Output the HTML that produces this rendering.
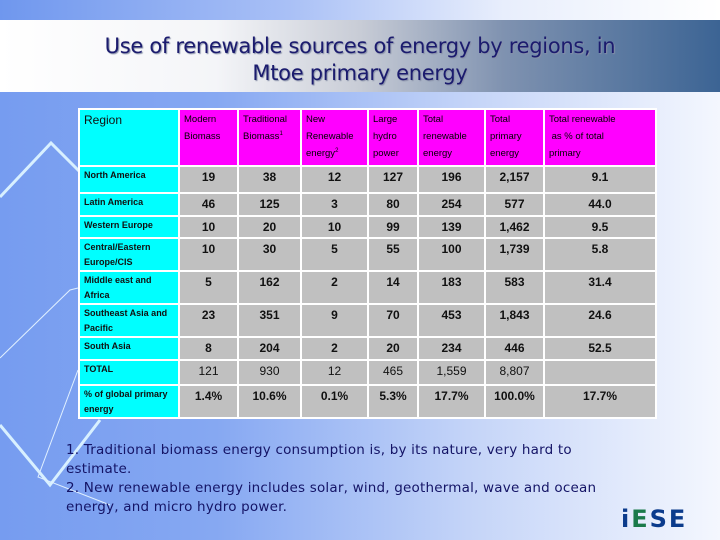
<!DOCTYPE html>
<html><head><meta charset="utf-8"><style>
*{margin:0;padding:0;box-sizing:border-box}
body{width:720px;height:540px;overflow:hidden;position:relative;font-family:"Liberation Sans",sans-serif;
background:linear-gradient(90deg,#769cf0 0%,#86a8f2 30%,#c4d4f8 65%,#f4f7fe 100%)}
#topband{position:absolute;left:0;top:0;width:720px;height:20px;background:linear-gradient(90deg,#6f97ee,#a9c0f6 40%,#e8eefc 70%,#fff)}
#titleband{position:absolute;left:0;top:20px;width:720px;height:72px;background:linear-gradient(90deg,#fff 0%,#f4f5f8 30%,#c8ccd6 50%,#7f92b0 70%,#3c6494 100%)}
h1{position:absolute;left:0;top:33px;width:720px;text-align:center;font-family:"DejaVu Sans",sans-serif;font-weight:normal;font-size:21px;line-height:27px;color:#1b1b6e;text-shadow:1px 1px 1px #8890a8;letter-spacing:-0.3px}
table{position:absolute;left:78px;top:108px;border-collapse:collapse;table-layout:fixed;width:577px;font-size:10px;color:#111}
td{border:2px solid #fff;padding:0 4px;vertical-align:top;overflow:hidden}
td.r{background:#00ffff}
td.h{background:#ff00ff;line-height:17px;padding-top:1px;font-size:9.5px;color:#000}
sup{line-height:0;font-size:6px}
td.v{background:#c0c0c0;text-align:center;font-weight:bold;font-size:12px;line-height:14px;padding-top:3px}
td.r.l{font-size:9px;line-height:15px;font-weight:bold;padding-top:1px}
#notes{position:absolute;left:66px;top:441px;width:595px;font-family:"DejaVu Sans",sans-serif;font-size:13.5px;line-height:19px;color:#141466;letter-spacing:0.2px}
#logo{position:absolute;left:621px;top:505px;font-family:"DejaVu Sans",sans-serif;font-weight:bold;font-size:24px;letter-spacing:2px;color:#0b3b8c}
svg{position:absolute;left:0;top:0}
</style></head><body>
<div id="topband"></div>
<div id="titleband"></div>
<svg width="720" height="540">
<polyline points="0,197 51,143 80,172" stroke="#d8f0ff" stroke-width="3" fill="none"/>
<polyline points="0,425 50,485 100,420" stroke="#d8f0ff" stroke-width="3" fill="none"/>
<polyline points="0,358 70,290 78,288" stroke="#e0f0ff" stroke-width="1" fill="none"/>
<polyline points="78,370 38,477 110,505" stroke="#e0f0ff" stroke-width="1" fill="none"/>
</svg>
<h1>Use of renewable sources of energy by regions, in<br>Mtoe primary energy</h1>
<table>
<colgroup><col style="width:100px"><col style="width:59px"><col style="width:63px"><col style="width:67px"><col style="width:50px"><col style="width:67px"><col style="width:59px"><col style="width:112px"></colgroup>
<tr style="height:57px">
<td class="r" style="font-size:12px;padding-top:3px">Region</td>
<td class="h">Modern Biomass</td>
<td class="h">Traditional Biomass<sup>1</sup></td>
<td class="h">New Renewable energy<sup>2</sup></td>
<td class="h">Large hydro power</td>
<td class="h">Total renewable energy</td>
<td class="h">Total primary energy</td>
<td class="h">Total renewable<br>&nbsp;as % of total<br>primary</td>
</tr>
<tr style="height:27px"><td class="r l">North America</td><td class="v">19</td><td class="v">38</td><td class="v">12</td><td class="v">127</td><td class="v">196</td><td class="v">2,157</td><td class="v">9.1</td></tr>
<tr style="height:23px"><td class="r l">Latin America</td><td class="v">46</td><td class="v">125</td><td class="v">3</td><td class="v">80</td><td class="v">254</td><td class="v">577</td><td class="v">44.0</td></tr>
<tr style="height:22px"><td class="r l">Western Europe</td><td class="v">10</td><td class="v">20</td><td class="v">10</td><td class="v">99</td><td class="v">139</td><td class="v">1,462</td><td class="v">9.5</td></tr>
<tr style="height:33px"><td class="r l">Central/Eastern Europe/CIS</td><td class="v">10</td><td class="v">30</td><td class="v">5</td><td class="v">55</td><td class="v">100</td><td class="v">1,739</td><td class="v">5.8</td></tr>
<tr style="height:32px"><td class="r l">Middle east and Africa</td><td class="v">5</td><td class="v">162</td><td class="v">2</td><td class="v">14</td><td class="v">183</td><td class="v">583</td><td class="v">31.4</td></tr>
<tr style="height:32px"><td class="r l">Southeast Asia and Pacific</td><td class="v">23</td><td class="v">351</td><td class="v">9</td><td class="v">70</td><td class="v">453</td><td class="v">1,843</td><td class="v">24.6</td></tr>
<tr style="height:23px"><td class="r l">South Asia</td><td class="v">8</td><td class="v">204</td><td class="v">2</td><td class="v">20</td><td class="v">234</td><td class="v">446</td><td class="v">52.5</td></tr>
<tr style="height:25px"><td class="r l">TOTAL</td><td class="v" style="font-weight:normal">121</td><td class="v" style="font-weight:normal">930</td><td class="v" style="font-weight:normal">12</td><td class="v" style="font-weight:normal">465</td><td class="v" style="font-weight:normal">1,559</td><td class="v" style="font-weight:normal">8,807</td><td class="v"></td></tr>
<tr style="height:33px"><td class="r l">% of global primary energy</td><td class="v">1.4%</td><td class="v">10.6%</td><td class="v">0.1%</td><td class="v">5.3%</td><td class="v">17.7%</td><td class="v">100.0%</td><td class="v">17.7%</td></tr>
</table>
<div id="notes">1. Traditional biomass energy consumption is, by its nature, very hard to<br>estimate.<br>2. New renewable energy includes solar, wind, geothermal, wave and ocean<br>energy, and micro hydro power.</div>
<div id="logo">i<span style="color:#1a7a4a">E</span>SE</div>
</body></html>
